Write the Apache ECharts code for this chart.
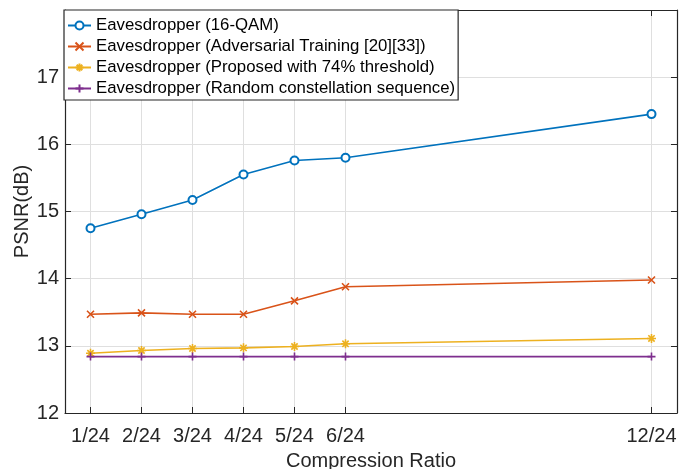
<!DOCTYPE html>
<html>
<head>
<meta charset="utf-8">
<script src="https://cdn.jsdelivr.net/npm/echarts@6/dist/echarts.min.js"></script>
<style>
html,body{margin:0;padding:0;background:#fff;}
#chart{width:680px;height:469px;}
</style>
</head>
<body>
<div id="chart"></div>
<script>
// ---- data ----
const xValues = [1, 2, 3, 4, 5, 6, 12];
const xTickLabels = ['1/24', '2/24', '3/24', '4/24', '5/24', '6/24', '12/24'];
const seriesNames = [
  'Eavesdropper (16-QAM)',
  'Eavesdropper (Adversarial Training [20][33])',
  'Eavesdropper (Proposed with 74% threshold)',
  'Eavesdropper (Random constellation sequence)'
];
const qam16 = [14.75, 14.96, 15.17, 15.55, 15.76, 15.80, 16.45];
const adversarial = [13.47, 13.49, 13.47, 13.47, 13.67, 13.88, 13.98];
const proposed = [12.89, 12.93, 12.96, 12.97, 12.99, 13.03, 13.11];
const randomSeq = [12.84, 12.84, 12.84, 12.84, 12.84, 12.84, 12.84];
const yTicks = [12, 13, 14, 15, 16, 17];

// ---- styling ----
const FONT = "'Liberation Sans', Arial, Helvetica, sans-serif";
const TXT = '#262626';
const colors = ['#0072BD', '#D95319', '#EDB120', '#7E2F8E'];
const symbols = [
  'emptyCircle',
  'path://M0,0L10,10M10,0L0,10',
  'path://M5,0L5,10M0,5L10,5M1.5,1.5L8.5,8.5M8.5,1.5L1.5,8.5',
  'path://M5,0L5,10M0,5L10,5'
];
const symbolSizes = [8, 7, 9, 8];
const dataSets = [qam16, adversarial, proposed, randomSeq];

function pairs(ys) { return xValues.map((x, i) => [x, ys[i]]); }
function labelFor(v) {
  const i = xValues.indexOf(v);
  return i >= 0 ? xTickLabels[i] : '';
}

const series = dataSets.map((ys, k) => ({
  name: seriesNames[k],
  type: 'line',
  data: pairs(ys),
  symbol: symbols[k],
  symbolSize: symbolSizes[k],
  showAllSymbol: true,
  color: colors[k],
  lineStyle: { color: colors[k], width: 1.6 },
  itemStyle: {
    color: colors[k],
    borderColor: colors[k],
    borderWidth: 1.6
  },
  emphasis: { disabled: true },
  animation: false,
  z: 3
}));

const tickCommon = { inside: true, length: 6, lineStyle: { color: TXT, width: 1 } };
const axisLineCommon = { show: true, onZero: false, lineStyle: { color: TXT, width: 1.2 } };

const option = {
  animation: false,
  backgroundColor: '#fff',
  textStyle: { fontFamily: FONT, color: TXT },
  grid: { left: 65, right: 3, top: 10, bottom: 56, containLabel: false, outerBoundsMode: 'none' },
  legend: {
    orient: 'vertical',
    left: 64,
    top: 10,
    data: seriesNames,
    itemWidth: 23,
    itemHeight: 10,
    itemGap: 0,
    padding: [5, 3, 1, 3],
    backgroundColor: '#fff',
    borderColor: TXT,
    borderWidth: 1.2,
    borderRadius: 0,
    textStyle: { fontFamily: FONT, fontSize: 16.8, color: '#000', lineHeight: 21 },
    z: 10
  },
  xAxis: [{
    type: 'value',
    min: 0.5,
    max: 12.5,
    position: 'bottom',
    name: 'Compression Ratio',
    nameLocation: 'middle',
    nameGap: 38,
    nameTextStyle: { fontFamily: FONT, fontSize: 20, color: TXT },
    axisLine: axisLineCommon,
    axisTick: Object.assign({ customValues: xValues }, tickCommon),
    axisLabel: {
      customValues: xValues,
      formatter: labelFor,
      fontFamily: FONT, fontSize: 20, color: TXT, margin: 13
    },
    splitLine: { show: true, lineStyle: { color: '#dfdfdf', width: 1 } }
  }, {
    type: 'value',
    min: 0.5,
    max: 12.5,
    position: 'top',
    axisLine: axisLineCommon,
    axisTick: Object.assign({ customValues: xValues }, tickCommon),
    axisLabel: { show: false },
    splitLine: { show: false }
  }],
  yAxis: [{
    type: 'value',
    min: 12,
    max: 18,
    interval: 1,
    position: 'left',
    name: 'PSNR(dB)',
    nameLocation: 'middle',
    nameGap: 33,
    nameMoveOverlap: false,
    nameTextStyle: { fontFamily: FONT, fontSize: 20, color: TXT },
    axisLine: axisLineCommon,
    axisTick: tickCommon,
    axisLabel: {
      fontFamily: FONT, fontSize: 20, color: TXT, margin: 6,
      formatter: v => (yTicks.indexOf(v) >= 0 ? String(v) : '')
    },
    splitLine: { show: true, lineStyle: { color: '#dfdfdf', width: 1 } }
  }, {
    type: 'value',
    min: 12,
    max: 18,
    interval: 1,
    position: 'right',
    axisLine: axisLineCommon,
    axisTick: tickCommon,
    axisLabel: { show: false },
    splitLine: { show: false }
  }],
  series: series
};

const chart = echarts.init(document.getElementById('chart'), null, { renderer: 'canvas' });
chart.setOption(option);
</script>
</body>
</html>
